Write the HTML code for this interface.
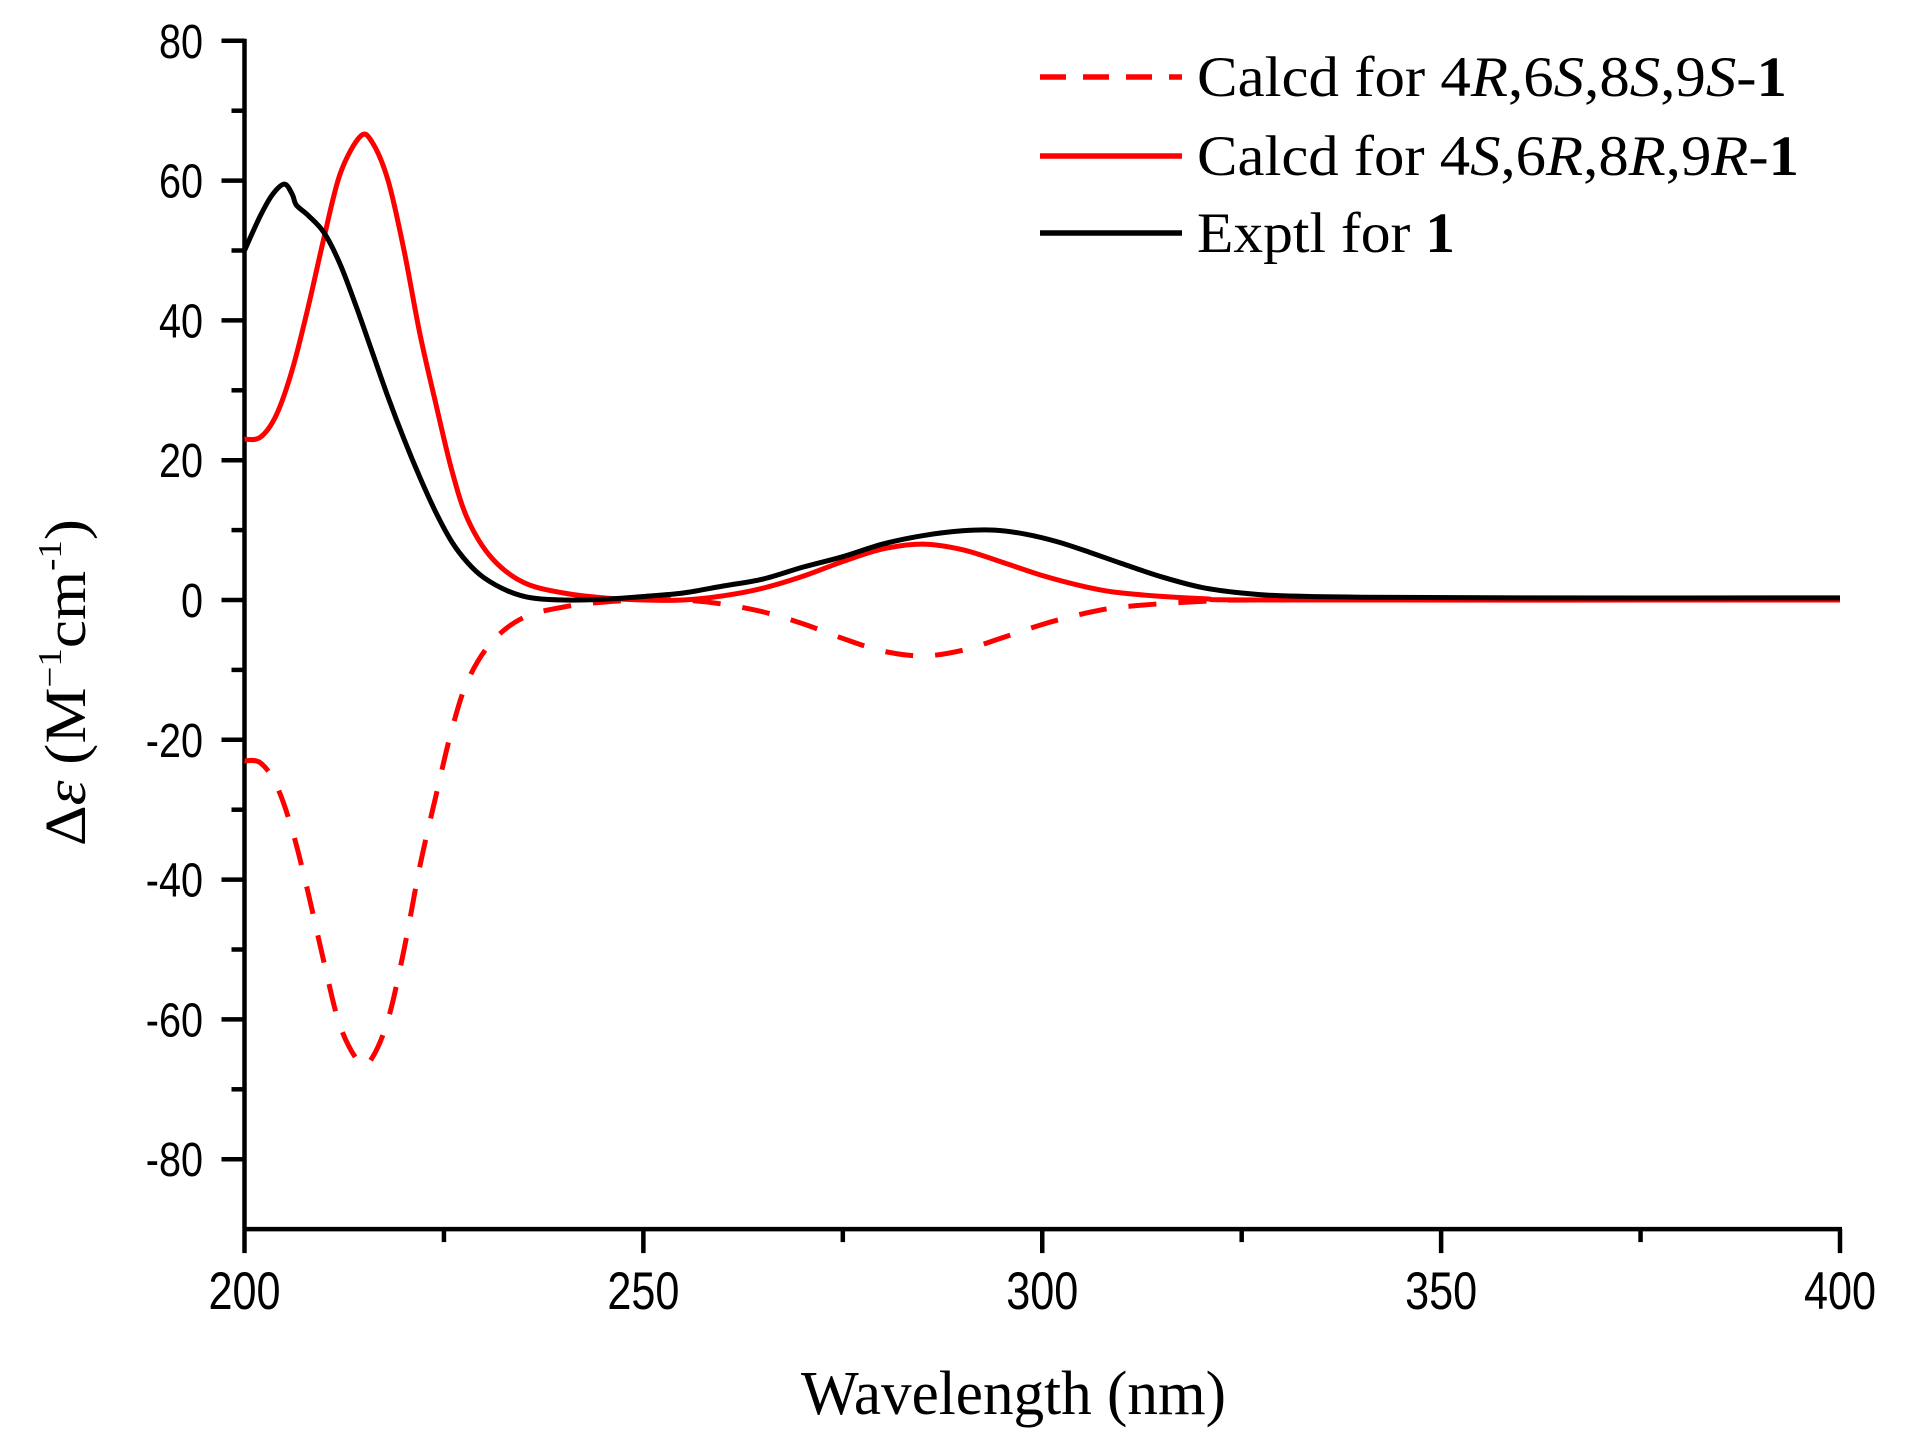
<!DOCTYPE html>
<html><head><meta charset="utf-8"><style>html,body{margin:0;padding:0;background:#fff}svg{display:block}</style></head>
<body>
<svg id="s" width="1917" height="1441" viewBox="0 0 1917 1441" xmlns="http://www.w3.org/2000/svg">
<g id="ax" stroke="#000" stroke-width="4.5" fill="none"></g>
<g id="lab" font-family="Liberation Sans, Arial, sans-serif" fill="#000"></g>
<g id="data" fill="none" stroke-width="5" stroke-linejoin="round"></g>
<text x="801" y="1414" font-family="Liberation Serif, serif" font-size="62" textLength="425" lengthAdjust="spacingAndGlyphs">Wavelength (nm)</text>
<text transform="translate(85,846) rotate(-90)" font-family="Liberation Serif, serif" font-size="58" textLength="327" lengthAdjust="spacingAndGlyphs">Δ<tspan font-style="italic">ε</tspan> (M<tspan font-size="34" dy="-24">−1</tspan><tspan dy="24">cm</tspan><tspan font-size="34" dy="-24">-1</tspan><tspan dy="24">)</tspan></text>
<g font-family="Liberation Serif, serif" font-size="57">
<line x1="1040" y1="77" x2="1182" y2="77" stroke="#f00" stroke-width="5.5" stroke-dasharray="26,17"/>
<line x1="1040" y1="156" x2="1182" y2="156" stroke="#f00" stroke-width="5.5"/>
<line x1="1040" y1="233" x2="1182" y2="233" stroke="#000" stroke-width="5.5"/>
<text x="1197" y="96" textLength="590" lengthAdjust="spacingAndGlyphs">Calcd for 4<tspan font-style="italic">R</tspan>,6<tspan font-style="italic">S</tspan>,8<tspan font-style="italic">S</tspan>,9<tspan font-style="italic">S</tspan>-<tspan font-weight="bold">1</tspan></text>
<text x="1197" y="175" textLength="602" lengthAdjust="spacingAndGlyphs">Calcd for 4<tspan font-style="italic">S</tspan>,6<tspan font-style="italic">R</tspan>,8<tspan font-style="italic">R</tspan>,9<tspan font-style="italic">R</tspan>-<tspan font-weight="bold">1</tspan></text>
<text x="1197" y="252" textLength="258" lengthAdjust="spacingAndGlyphs">Exptl for <tspan font-weight="bold">1</tspan></text>
</g>
</svg>
<script>
var NS="http://www.w3.org/2000/svg";
function X(w){return 244.5+(w-200)*(1840-244.5)/200;}
function Y(v){return 600-v*139.8/20;}
function el(p,t,a,txt){var e=document.createElementNS(NS,t);for(var k in a)e.setAttribute(k,a[k]);if(txt!=null)e.textContent=txt;p.appendChild(e);return e;}
var ax=document.getElementById('ax'),lab=document.getElementById('lab'),data=document.getElementById('data');
var yb=Y(-90);
el(ax,'line',{x1:X(200),y1:Y(80)-2,x2:X(200),y2:yb});
el(ax,'line',{x1:X(200)-2,y1:yb,x2:X(400)+2,y2:yb});
for(var v=-80;v<=80;v+=10){var maj=v%20==0;el(ax,'line',{x1:X(200),y1:Y(v),x2:X(200)-(maj?23:13),y2:Y(v)});
 if(maj)el(lab,'text',{transform:'translate(203,'+(Y(v)+17)+') scale(0.9,1.1)','font-size':44,'text-anchor':'end'},String(v));}
for(var w=200;w<=400;w+=25){var maj=w%50==0;el(ax,'line',{x1:X(w),y1:yb,x2:X(w),y2:yb+(maj?24:13)});
 if(maj)el(lab,'text',{transform:'translate('+X(w)+',1309) scale(0.9,1.1)','font-size':48,'text-anchor':'middle'},String(w));}
function path(pts){var P=pts.map(function(p){return [X(p[0]),Y(p[1])];});
 var d='M'+P[0][0]+','+P[0][1];
 for(var i=0;i<P.length-1;i++){var p0=P[i-1]||P[i],p1=P[i],p2=P[i+1],p3=P[i+2]||P[i+1];
  d+=' C'+(p1[0]+(p2[0]-p0[0])/6)+','+(p1[1]+(p2[1]-p0[1])/6)+' '+(p2[0]-(p3[0]-p1[0])/6)+','+(p2[1]-(p3[1]-p1[1])/6)+' '+p2[0]+','+p2[1];}
 return d;}
var red=[[200,23],[202,23.3],[204,26.5],[206,33],[208,42],[210,52],[212,61],[214.5,66.3],[216,65.5],[218,60],[220,50],[222,38],[224,28],[226,18.5],[228,11.5],[231,6],[235,2.5],[240,1],[245,0.3],[250,0],[255,0],[260,0.6],[265,1.7],[270,3.4],[275,5.5],[280,7.3],[285,8],[290,7.2],[295,5.4],[300,3.5],[305,2],[310,1],[320,0.2],[330,0],[400,0]];
var blk=[[200,50],[202,55],[203.5,58],[205,59.5],[206,58],[206.5,56.5],[208,55],[210,52.5],[212,48],[214,42],[216,35.5],[218,29],[220,23],[222,17.5],[224,12.5],[226,8.3],[228,5.3],[230,3.2],[233,1.3],[236,0.3],[240,0],[245,0.1],[250,0.5],[255,1],[260,2],[265,3],[270,4.7],[275,6.2],[280,8],[285,9.2],[290,9.9],[294,10],[298,9.4],[302,8.3],[306,6.8],[310,5.2],[315,3.3],[320,1.8],[325,1],[330,0.6],[340,0.4],[360,0.3],[400,0.3]];
el(data,'path',{d:path(red),stroke:'#f00'});
el(data,'path',{d:path(red.map(function(p){return [p[0],-p[1]];})),stroke:'#f00','stroke-dasharray':'28,22'});
el(data,'path',{d:path(blk),stroke:'#000'});
</script>
</body></html>
